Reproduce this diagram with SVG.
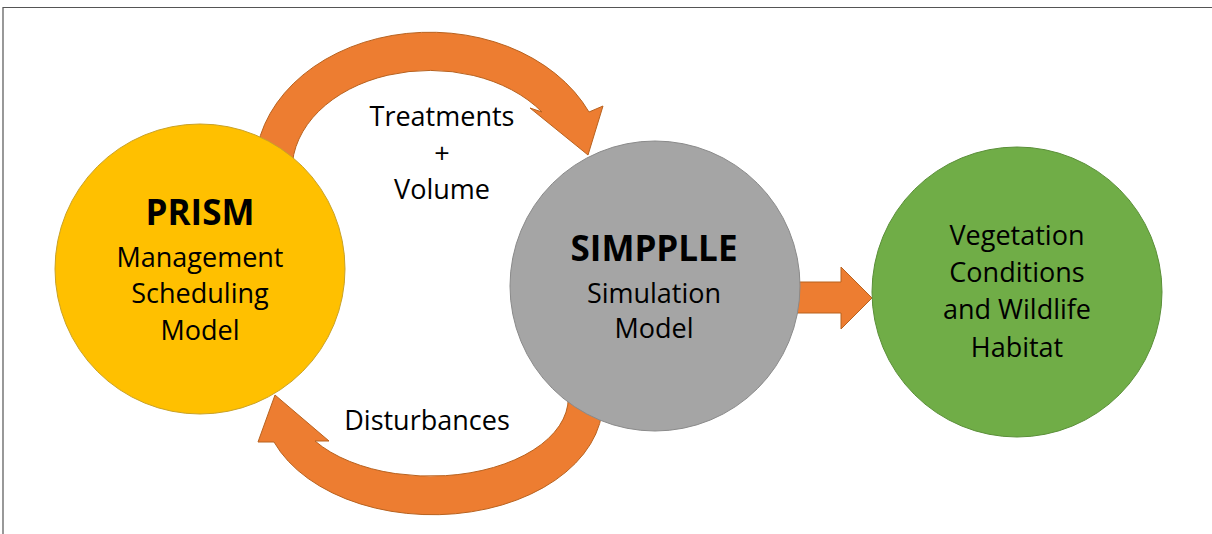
<svg xmlns="http://www.w3.org/2000/svg" width="1212" height="534" viewBox="0 0 1212 534">
<style>
.arrow{fill:#ED7D31;stroke:#B8621F;stroke-width:1;stroke-linejoin:miter}
.t{font-family:"Open Sans","Liberation Sans",sans-serif;font-size:27px;fill:#000;text-anchor:middle}
.b{font-weight:bold;font-size:35px}
</style>
<rect width="1212" height="534" fill="#fff"/>
<path d="M3,534 L3,7.5 L1212,7.5" fill="none" stroke="#555" stroke-width="1.2"/>
<g id="connectors">
<path class="arrow" d="M255,170 A175,137 0 0 1 589,112 L603,106 L588,155 L530,108 L542,112 A138,100 0 0 0 292,170 Z"/>
<path class="arrow" d="M596,370 A170,113 0 0 1 274,442 L258,442 L275,395 L329,441 L315,441 A138,78 0 0 0 559,370 Z"/>
<path class="arrow" d="M790,282 L841,282 L841,267 L872,298 L841,329 L841,313 L790,313 Z"/>
</g>
<g id="prism">
<circle cx="200" cy="269" r="145" fill="#FFC000" stroke="#C9A227" stroke-width="1"/>
<text class="t b" x="200" y="225">PRISM</text>
<text class="t" x="200" y="267">Management</text>
<text class="t" x="200" y="303">Scheduling</text>
<text class="t" x="200" y="340">Model</text>
</g>
<g id="simpplle">
<circle cx="655" cy="286" r="145" fill="#A5A5A5" stroke="#8A8A8A" stroke-width="1"/>
<text class="t b" x="654" y="261">SIMPPLLE</text>
<text class="t" x="654" y="303">Simulation</text>
<text class="t" x="654" y="338">Model</text>
</g>
<g id="vegetation">
<circle cx="1017" cy="292" r="145" fill="#70AD47" stroke="#5A8F38" stroke-width="1"/>
<text class="t" x="1017" y="245">Vegetation</text>
<text class="t" x="1017" y="282">Conditions</text>
<text class="t" x="1017" y="319">and Wildlife</text>
<text class="t" x="1017" y="357">Habitat</text>
</g>
<g id="labels">
<text class="t" x="442" y="126">Treatments</text>
<text class="t" x="442" y="163">+</text>
<text class="t" x="442" y="199">Volume</text>
<text class="t" x="427" y="430">Disturbances</text>
</g>
</svg>
